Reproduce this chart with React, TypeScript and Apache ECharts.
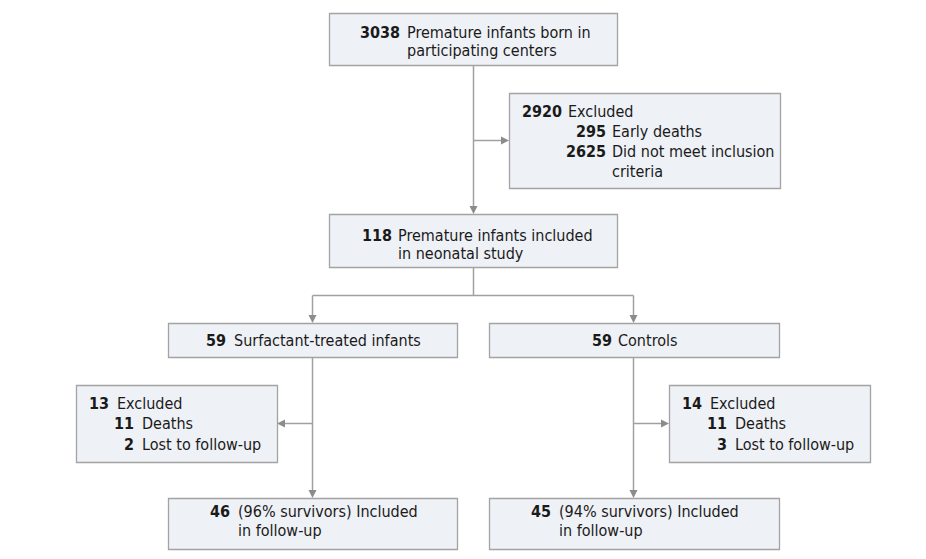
import React, { useEffect, useRef } from "react";
import * as echarts from "echarts";

// ---- data ----
const bornCount = 3038;
const bornLabel = ["Premature infants born in", "participating centers"];
const excludedCounts = [2920, 295, 2625];
const excludedLabels = ["Excluded", "Early deaths", "Did not meet inclusion", "criteria"];
const includedCount = 118;
const includedLabel = ["Premature infants included", "in neonatal study"];
const armCounts = [59, 59];
const armLabels = ["Surfactant-treated infants", "Controls"];
const armExcludedCounts = [
  [13, 11, 2],
  [14, 11, 3],
];
const armExcludedLabels = ["Excluded", "Deaths", "Lost to follow-up"];
const followCounts = [46, 45];
const followLabels = [
  ["(96% survivors) Included", "in follow-up"],
  ["(94% survivors) Included", "in follow-up"],
];

const FAM = "'Liberation Sans Narrow','Arial Narrow','DejaVu Sans Condensed',sans-serif";
const FS = 16;
const TXT = "#1a1a1a";
const FILL = "#eef1f6";
const BORDER = "#a3a3a3";
const LINE = "#a0a0a0";
const HEAD = "#8c8c8c";

function rect(x1: number, y1: number, x2: number, y2: number) {
  return {
    type: "rect",
    shape: { x: x1 + 0.5, y: y1 + 0.5, width: x2 - x1, height: y2 - y1 },
    style: { fill: FILL, stroke: BORDER, lineWidth: 1.3 },
  };
}

function txt(x: number, y: number, text: string, bold: boolean, align: string) {
  return {
    type: "text",
    x,
    y,
    style: {
      text,
      fill: TXT,
      fontSize: FS,
      fontWeight: bold ? "bold" : "normal",
      fontFamily: FAM,
      align,
      verticalAlign: "middle",
      textAlign: align,
      textVerticalAlign: "middle",
    },
  };
}

function seg(x1: number, y1: number, x2: number, y2: number) {
  return {
    type: "line",
    shape: { x1, y1, x2, y2 },
    style: { stroke: LINE, lineWidth: 1.5 },
  };
}

function head(x: number, y: number, dir: string) {
  const L = 8, W = 4;
  let pts: number[][];
  if (dir === "down") pts = [[x - W, y - L], [x + W, y - L], [x, y]];
  else if (dir === "right") pts = [[x - L, y - W], [x - L, y + W], [x, y]];
  else pts = [[x + L, y - W], [x + L, y + W], [x, y]];
  return { type: "polygon", shape: { points: pts }, style: { fill: HEAD } };
}

function buildGraphics() {
  const g: any[] = [];
  // connectors
  g.push(seg(473.5, 65, 473.5, 206));
  g.push(head(473.5, 214, "down"));
  g.push(seg(473.5, 140.5, 502, 140.5));
  g.push(head(509, 140.5, "right"));
  g.push(seg(473.5, 267, 473.5, 295.5));
  g.push(seg(312.5, 295.5, 633.5, 295.5));
  g.push(seg(312.5, 295.5, 312.5, 316));
  g.push(head(312.5, 323, "down"));
  g.push(seg(633.5, 295.5, 633.5, 316));
  g.push(head(633.5, 323, "down"));
  g.push(seg(312.5, 357, 312.5, 490));
  g.push(head(312.5, 498, "down"));
  g.push(seg(312.5, 423.5, 284, 423.5));
  g.push(head(277, 423.5, "left"));
  g.push(seg(633.5, 357, 633.5, 490));
  g.push(head(633.5, 498, "down"));
  g.push(seg(633.5, 423.5, 662, 423.5));
  g.push(head(669, 423.5, "right"));

  // box 1
  g.push(rect(329, 13, 617, 65));
  g.push(txt(400, 32, String(bornCount), true, "right"));
  g.push(txt(407, 32, bornLabel[0], false, "left"));
  g.push(txt(407, 50, bornLabel[1], false, "left"));

  // box 2
  g.push(rect(509, 93, 780, 188));
  g.push(txt(562, 111, String(excludedCounts[0]), true, "right"));
  g.push(txt(568, 111, excludedLabels[0], false, "left"));
  g.push(txt(606, 131, String(excludedCounts[1]), true, "right"));
  g.push(txt(612, 131, excludedLabels[1], false, "left"));
  g.push(txt(606, 151, String(excludedCounts[2]), true, "right"));
  g.push(txt(612, 151, excludedLabels[2], false, "left"));
  g.push(txt(612, 171, excludedLabels[3], false, "left"));

  // box 3
  g.push(rect(329, 214, 617, 267));
  g.push(txt(392, 235, String(includedCount), true, "right"));
  g.push(txt(398, 235, includedLabel[0], false, "left"));
  g.push(txt(398, 253, includedLabel[1], false, "left"));

  // arms
  g.push(rect(168, 323, 457, 357));
  g.push(txt(226, 340, String(armCounts[0]), true, "right"));
  g.push(txt(234, 340, armLabels[0], false, "left"));
  g.push(rect(489, 323, 779, 357));
  g.push(txt(612, 340, String(armCounts[1]), true, "right"));
  g.push(txt(618, 340, armLabels[1], false, "left"));

  // arm exclusions
  const exBoxes = [76, 669];
  const rows = [403, 423, 444];
  exBoxes.forEach((bx, i) => {
    g.push(rect(bx, 385, bx + 201, 462));
    armExcludedCounts[i].forEach((c, j) => {
      const nx = j === 0 ? bx + 33 : bx + 58;
      const lx = j === 0 ? bx + 41 : bx + 66;
      g.push(txt(nx, rows[j], String(c), true, "right"));
      g.push(txt(lx, rows[j], armExcludedLabels[j], false, "left"));
    });
  });

  // follow-up
  const fBoxes = [
    { x1: 168, x2: 457, nx: 230, lx: 238 },
    { x1: 489, x2: 779, nx: 551, lx: 559 },
  ];
  fBoxes.forEach((b, i) => {
    g.push(rect(b.x1, 498, b.x2, 549));
    g.push(txt(b.nx, 511, String(followCounts[i]), true, "right"));
    g.push(txt(b.lx, 511, followLabels[i][0], false, "left"));
    g.push(txt(b.lx, 530, followLabels[i][1], false, "left"));
  });
  return g;
}

export default function App() {
  const ref = useRef<HTMLDivElement>(null);
  useEffect(() => {
    if (!ref.current) return;
    const chart = echarts.init(ref.current, null, { renderer: "svg" });
    chart.setOption({
      animation: false,
      backgroundColor: "#ffffff",
      graphic: { elements: buildGraphics() },
    });
    return () => chart.dispose();
  }, []);
  return (
    <div
      ref={ref}
      style={{ position: "fixed", left: 0, top: 0, width: 926, height: 559, background: "#fff" }}
    />
  );
}
